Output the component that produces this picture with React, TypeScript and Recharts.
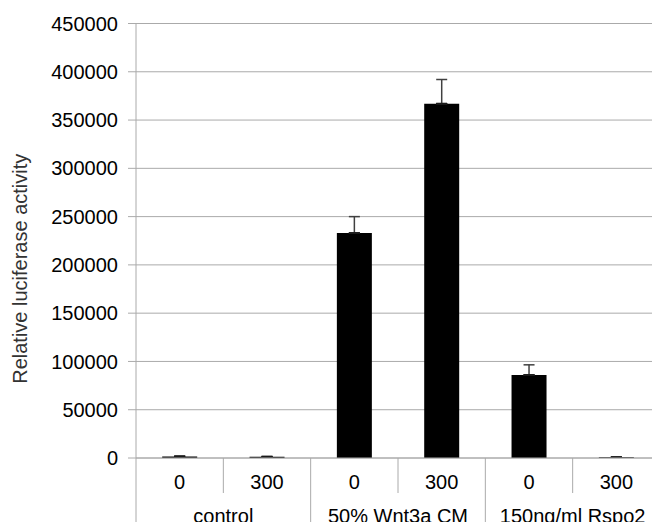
import React from 'react';
import { BarChart, Bar, XAxis, YAxis, CartesianGrid, ErrorBar } from 'recharts';

const groups = ['control', 'control', '50% Wnt3a CM', '50% Wnt3a CM', '150ng/ml Rspo2', '150ng/ml Rspo2'];
const doses = ['0', '300', '0', '300', '0', '300'];
const activity = [1500, 1200, 233000, 367000, 86000, 800];
const errors = [700, 600, 17000, 25000, 10500, 300];
const yTicks = [0, 50000, 100000, 150000, 200000, 250000, 300000, 350000, 400000, 450000];

const data = doses.map((d, i) => ({
  id: `${groups[i]}-${d}`,
  dose: d,
  group: groups[i],
  value: activity[i],
  err: [0, errors[i]],
  base: [0, 0],
}));

const FONT = '"Liberation Sans", Arial, sans-serif';
const GRID = '#aaaaaa';

function GroupTick(props: any) {
  const { x, y, index, payload } = props;
  const half = payload.offset || 0;
  const lastInGroup = index === data.length - 1 || groups[index + 1] !== groups[index];
  const firstInGroup = index === 0 || groups[index - 1] !== groups[index];
  return (
    <g>
      {index === 0 && <line x1={x - half} y1={y} x2={x - half} y2={y + 72} stroke={GRID} />}
      {index < data.length - 1 && (
        <line x1={x + half} y1={y} x2={x + half} y2={lastInGroup ? y + 72 : y + 35} stroke={GRID} />
      )}
      <text x={x} y={y + 31} textAnchor="middle" fontSize={20} fill="#000" fontFamily={FONT}>
        {doses[index]}
      </text>
      {firstInGroup && (
        <text x={x + half} y={y + 65} textAnchor="middle" fontSize={20} fill="#000" fontFamily={FONT}>
          {groups[index]}
        </text>
      )}
    </g>
  );
}

function AxisLabel(props: any) {
  const { viewBox } = props;
  const lx = viewBox.x + 27;
  const ly = viewBox.y + viewBox.height / 2 + 28;
  return (
    <text
      x={lx}
      y={ly}
      transform={`rotate(-90, ${lx}, ${ly})`}
      textAnchor="middle"
      fontSize={20}
      fill="#333"
      fontFamily={FONT}
    >
      Relative luciferase activity
    </text>
  );
}

export default function App() {
  return (
    <div style={{ margin: -8, width: 660, height: 530, background: '#fff' }}>
      <BarChart
        width={660}
        height={530}
        data={data}
        margin={{ top: 23.5, right: 0, left: 0, bottom: 0 }}
        barCategoryGap="30%"
      >
        <CartesianGrid vertical={false} stroke={GRID} />
        <XAxis
          dataKey="id"
          height={72}
          axisLine={{ stroke: GRID }}
          tickLine={false}
          tickSize={0}
          tickMargin={0}
          interval={0}
          tick={<GroupTick />}
        />
        <YAxis
          width={136}
          domain={[0, 450000]}
          ticks={yTicks}
          interval={0}
          axisLine={{ stroke: GRID }}
          tickLine={{ stroke: GRID }}
          tickSize={8}
          tickMargin={10}
          tick={{ fill: '#000', fontSize: 20, fontFamily: FONT }}
          label={<AxisLabel />}
        />
        <Bar dataKey="value" fill="#000" isAnimationActive={false}>
          <ErrorBar dataKey="err" width={5.5} stroke="#404040" strokeWidth={1.5} direction="y" />
          <ErrorBar dataKey="base" width={5.5} stroke="#1a1a1a" strokeWidth={1.5} direction="y" />
        </Bar>
      </BarChart>
    </div>
  );
}
